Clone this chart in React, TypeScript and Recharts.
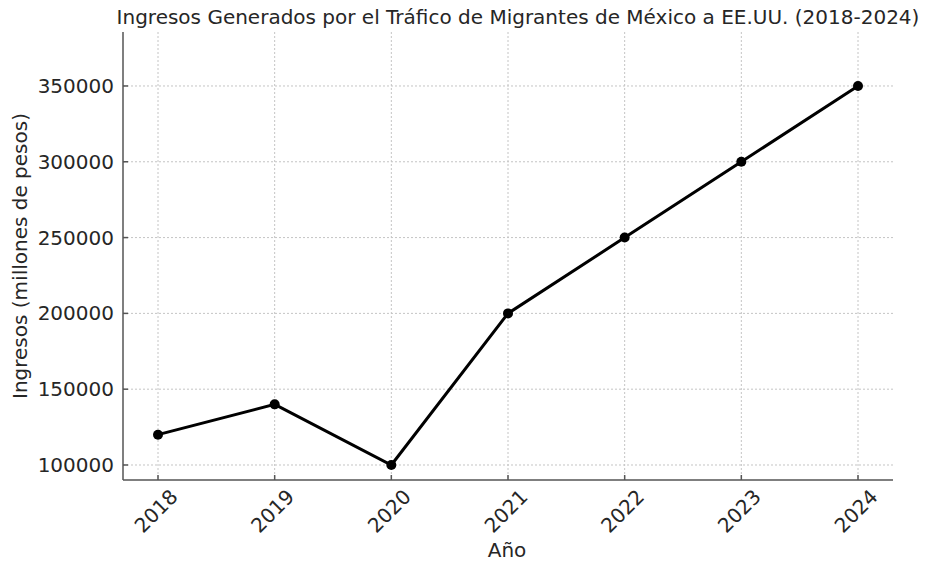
import React from "react";
import { LineChart, Line, XAxis, YAxis, CartesianGrid } from "recharts";

const years = [2018, 2019, 2020, 2021, 2022, 2023, 2024];
const ingresos = [120000, 140000, 100000, 200000, 250000, 300000, 350000];
const yTicks = [100000, 150000, 200000, 250000, 300000, 350000];

const data = years.map((y, i) => ({ year: y, value: ingresos[i] }));

const FONT = "DejaVu Sans, sans-serif";
const TEXT = "#262626";
const AXIS = "#555555";

function XTick(props: any) {
  const { x, y, payload } = props;
  return (
    <g>
      <line x1={x} y1={y} x2={x} y2={y - 5} stroke={AXIS} strokeWidth={1.5} />
      <g transform={`translate(${x - 2},${y + 31})`}>
        <text
          transform="rotate(-45)"
          textAnchor="middle"
          dy="0.35em"
          fontSize={20}
          fontFamily={FONT}
          fill={TEXT}
        >
          {payload.value}
        </text>
      </g>
    </g>
  );
}

function YTick(props: any) {
  const { x, y, payload } = props;
  return (
    <g>
      <line x1={x} y1={y} x2={x + 5} y2={y} stroke={AXIS} strokeWidth={1.5} />
      <text
        x={x - 9}
        y={y}
        dy="0.35em"
        textAnchor="end"
        fontSize={20}
        fontFamily={FONT}
        fill={TEXT}
      >
        {payload.value}
      </text>
    </g>
  );
}

export default function App() {
  return (
    <div style={{ position: "absolute", left: 0, top: 0, background: "#fff" }}>
      <LineChart
        width={928}
        height={561}
        data={data}
        margin={{ top: 32, right: 35, bottom: 51, left: 0 }}
      >
        <CartesianGrid stroke="#c4c4c4" strokeDasharray="2 2" syncWithTicks />
        <XAxis
          dataKey="year"
          type="number"
          domain={[2017.7, 2024.3]}
          ticks={years}
          height={30}
          tickSize={0}
          tickMargin={0}
          tick={<XTick />}
          stroke={AXIS}
          strokeWidth={1.5}
          interval={0}
        />
        <YAxis
          type="number"
          domain={[90100, 385600]}
          ticks={yTicks}
          width={123}
          tickSize={0}
          tickMargin={0}
          tick={<YTick />}
          stroke={AXIS}
          strokeWidth={1.5}
          allowDataOverflow
          interval={0}
        />
        <Line
          dataKey="value"
          stroke="#000"
          strokeWidth={3}
          dot={{ r: 5, fill: "#000", stroke: "#000", strokeWidth: 0 }}
          activeDot={false}
          isAnimationActive={false}
        />
        <text x={518} y={24} textAnchor="middle" fontSize={20} fontFamily={FONT} fill={TEXT}>
          Ingresos Generados por el Tráfico de Migrantes de México a EE.UU. (2018-2024)
        </text>
        <text x={507} y={557} textAnchor="middle" fontSize={20} fontFamily={FONT} fill={TEXT}>
          Año
        </text>
        <text
          transform="translate(27,256) rotate(-90)"
          textAnchor="middle"
          fontSize={20}
          fontFamily={FONT}
          fill={TEXT}
        >
          Ingresos (millones de pesos)
        </text>
      </LineChart>
    </div>
  );
}
